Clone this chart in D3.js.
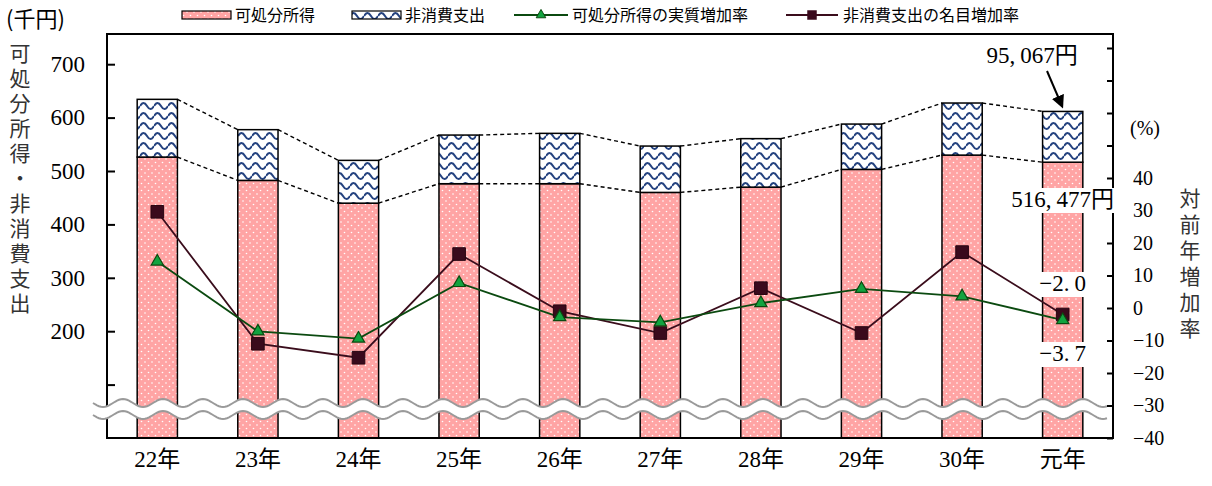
<!DOCTYPE html>
<html>
<head>
<meta charset="utf-8">
<script src="https://cdn.jsdelivr.net/npm/d3@7"></script>
<style>
body { margin: 0; background: #fff; }
svg { display: block; }
</style>
</head>
<body>
<div id="chart"></div>
<script>
// data (千円 / %)
var years = ["22年", "23年", "24年", "25年", "26年", "27年", "28年", "29年", "30年", "元年"];
var income = [526.1, 482.4, 439.8, 476.2, 476.2, 459.9, 469.8, 503.0, 529.8, 516.477];
var nonCons = [108.1, 95.0, 80.1, 91.1, 94.3, 86.8, 90.8, 84.9, 97.5, 95.067];
var realRate = [14.3, -7.2, -9.4, 7.7, -2.8, -4.4, 1.5, 5.9, 3.6, -3.7];
var nomRate = [29.6, -11.0, -15.3, 16.6, -1.0, -7.7, 6.1, -7.7, 17.2, -2.0];
var leftTicks = [100, 200, 300, 400, 500, 600, 700];
var rightTicks = [-40, -30, -20, -10, 0, 10, 20, 30, 40, 50, 60, 70, 80];

var W = 1212, H = 486;
var pLeft = 107, pRight = 1113, pTop = 34, pBottom = 438;
var serif = "Liberation Serif, Noto Sans CJK JP, serif";
var gothic = "Noto Sans CJK JP, sans-serif";

var svg = d3.select("#chart").append("svg")
  .attr("width", W).attr("height", H);

var defs = svg.append("defs");
var dots = defs.append("pattern").attr("id", "dots")
  .attr("patternUnits", "userSpaceOnUse").attr("width", 7).attr("height", 7);
dots.append("rect").attr("width", 7).attr("height", 7).attr("fill", "#ffa4a4");
dots.append("circle").attr("cx", 1.5).attr("cy", 1.5).attr("r", 0.8).attr("fill", "#fff");
dots.append("circle").attr("cx", 5).attr("cy", 5).attr("r", 0.8).attr("fill", "#fff");

var wave = defs.append("pattern").attr("id", "wave")
  .attr("patternUnits", "userSpaceOnUse").attr("width", 14).attr("height", 10);
wave.append("rect").attr("width", 14).attr("height", 10).attr("fill", "#fff");
wave.append("path").attr("d", "M0,6 Q3.5,0 7,6 T14,6")
  .attr("fill", "none").attr("stroke", "#24427f").attr("stroke-width", 2);

var x = d3.scaleBand().domain(years).range([pLeft, pRight])
  .paddingInner(0.6).paddingOuter(0.3);
var yL = d3.scaleLinear().domain([0, 800]).range([pBottom, pBottom - 800 * 0.534]);
var yR = d3.scaleLinear().domain([-40, 90]).range([pBottom, pBottom - 130 * 3.25]);

// bars
var bars = svg.append("g");
years.forEach(function(d, i) {
  bars.append("rect")
    .attr("x", x(d)).attr("width", x.bandwidth())
    .attr("y", yL(income[i])).attr("height", pBottom - yL(income[i]))
    .attr("fill", "url(#dots)").attr("stroke", "#000").attr("stroke-width", 1.5);
  bars.append("rect")
    .attr("x", x(d)).attr("width", x.bandwidth())
    .attr("y", yL(income[i] + nonCons[i])).attr("height", yL(income[i]) - yL(income[i] + nonCons[i]))
    .attr("fill", "url(#wave)").attr("stroke", "#000").attr("stroke-width", 1.5);
});

// dashed connectors
var conn = svg.append("g").attr("stroke", "#000").attr("stroke-width", 1.4)
  .attr("stroke-dasharray", "4,3");
for (var i = 0; i < years.length - 1; i++) {
  conn.append("line")
    .attr("x1", x(years[i]) + x.bandwidth()).attr("x2", x(years[i + 1]))
    .attr("y1", yL(income[i])).attr("y2", yL(income[i + 1]));
  conn.append("line")
    .attr("x1", x(years[i]) + x.bandwidth()).attr("x2", x(years[i + 1]))
    .attr("y1", yL(income[i] + nonCons[i])).attr("y2", yL(income[i + 1] + nonCons[i + 1]));
}

// frame
svg.append("rect").attr("x", pLeft).attr("y", pTop)
  .attr("width", pRight - pLeft).attr("height", pBottom - pTop)
  .attr("fill", "none").attr("stroke", "#000").attr("stroke-width", 2);

// axis break
var bw = d3.range(93, 1108, 2);
var waveY = function(v, base) { return base + 4 * Math.sin((v - 93) / 40 * 2 * Math.PI); };
var brk = svg.append("g");
brk.append("path")
  .attr("d", d3.line()(bw.map(function(v) { return [v, waveY(v, 403)]; })
    .concat(bw.slice().reverse().map(function(v) { return [v, waveY(v, 415)]; }))) + "Z")
  .attr("fill", "#fff");
[403, 415].forEach(function(b) {
  brk.append("path")
    .attr("d", d3.line()(bw.map(function(v) { return [v, waveY(v, b)]; })))
    .attr("fill", "none").attr("stroke", "#9a9a9a").attr("stroke-width", 2);
});

// axes
var axL = svg.append("g").attr("transform", "translate(" + pLeft + ",0)")
  .call(d3.axisLeft(yL).tickValues(leftTicks).tickSize(-8).tickPadding(22)
    .tickFormat(function(d) { return d >= 200 ? d : ""; }));
var axR = svg.append("g").attr("transform", "translate(" + pRight + ",0)")
  .call(d3.axisRight(yR).tickValues(rightTicks).tickSize(-6).tickPadding(20)
    .tickFormat(function(d) { return d > 40 ? "" : (d < 0 ? "\u2212" + (-d) : d); }));
var axB = svg.append("g").attr("transform", "translate(0," + pBottom + ")")
  .call(d3.axisBottom(x).tickSize(0).tickPadding(22));
[axL, axR, axB].forEach(function(a) {
  a.attr("font-family", serif);
  a.select(".domain").remove();
  a.selectAll(".tick line").attr("stroke", "#000").attr("stroke-width", 2);
  a.selectAll(".tick text").attr("fill", "#000").style("font-family", serif);
});
axL.attr("font-size", 23);
axR.attr("font-size", 20);
axB.attr("font-size", 23);
axB.selectAll(".tick text").attr("dy", "0.3em");

// value labels on 元年
var last = years.length - 1;
var cx = x(years[last]) + x.bandwidth() / 2;
function boxLabel(parts, y, gap) {
  var t = svg.append("text").attr("x", cx).attr("y", y).attr("text-anchor", "middle")
    .style("font-family", serif).style("font-size", "23px").attr("fill", "#000");
  t.append("tspan").text(parts[0]);
  t.append("tspan").attr("dx", gap).text(parts[1]);
  var b = t.node().getBBox();
  svg.insert("rect", function() { return t.node(); })
    .attr("x", b.x - 3).attr("y", b.y + 1).attr("width", b.width + 6).attr("height", b.height)
    .attr("fill", "#fff");
  return t;
}
boxLabel(["516,", "477円"], 207, 5);
boxLabel(["\u22122.", "0"], 291, 5);
boxLabel(["\u22123.", "7"], 361, 5);

var t95 = svg.append("text").attr("x", 1032).attr("y", 63).attr("text-anchor", "middle")
  .style("font-family", serif).style("font-size", "23px");
t95.append("tspan").text("95,");
t95.append("tspan").attr("dx", 5).text("067円");

defs.append("marker").attr("id", "arr").attr("viewBox", "0 0 10 10")
  .attr("refX", 8).attr("refY", 5).attr("markerWidth", 6.5).attr("markerHeight", 6.5)
  .attr("orient", "auto").attr("markerUnits", "strokeWidth")
  .append("path").attr("d", "M0,0 L10,5 L0,10 Z").attr("fill", "#000");
svg.append("line").attr("x1", 1047).attr("y1", 71).attr("x2", 1062).attr("y2", 106)
  .attr("stroke", "#000").attr("stroke-width", 2).attr("marker-end", "url(#arr)");

// rate lines
var cxs = years.map(function(d) { return x(d) + x.bandwidth() / 2; });
var lineFn = d3.line().x(function(d, i) { return cxs[i]; }).y(function(d) { return yR(d); });
svg.append("path").datum(nomRate).attr("d", lineFn)
  .attr("fill", "none").attr("stroke", "#3a0d1c").attr("stroke-width", 1.8);
svg.append("path").datum(realRate).attr("d", lineFn)
  .attr("fill", "none").attr("stroke", "#0b4a10").attr("stroke-width", 1.8);
svg.append("g").selectAll("path").data(nomRate).join("path")
  .attr("transform", function(d, i) { return "translate(" + cxs[i] + "," + yR(d) + ")"; })
  .attr("d", d3.symbol(d3.symbolSquare, 160))
  .attr("fill", "#3a0a1c").attr("stroke", "#2a0612").attr("stroke-width", 1);
svg.append("g").selectAll("path").data(realRate).join("path")
  .attr("transform", function(d, i) { return "translate(" + cxs[i] + "," + yR(d) + ")"; })
  .attr("d", d3.symbol(d3.symbolTriangle, 65))
  .attr("fill", "#12a33f").attr("stroke", "#0b4a10").attr("stroke-width", 1.2);

// titles
svg.append("text").attr("x", 6).attr("y", 27).text("(千円)")
  .style("font-family", gothic).style("font-size", "22px");
svg.append("text").attr("x", 1130).attr("y", 135).text("(%)")
  .style("font-family", serif).style("font-size", "20px");
svg.append("text").attr("x", 20).attr("y", 43)
  .style("writing-mode", "vertical-rl").style("letter-spacing", "4px")
  .style("font-family", gothic).style("font-size", "21px").attr("fill", "#333")
  .text("可処分所得・非消費支出");
svg.append("text").attr("x", 1190).attr("y", 188)
  .style("writing-mode", "vertical-rl").style("letter-spacing", "5px")
  .style("font-family", gothic).style("font-size", "21px").attr("fill", "#333")
  .text("対前年増加率");

// legend
var lg = svg.append("g").style("font-family", gothic).style("font-size", "16px");
lg.append("rect").attr("x", 182).attr("y", 11).attr("width", 49).attr("height", 8)
  .attr("fill", "url(#dots)").attr("stroke", "#000").attr("stroke-width", 1.2);
lg.append("text").attr("x", 235).attr("y", 21).text("可処分所得");
lg.append("rect").attr("x", 352).attr("y", 11).attr("width", 49).attr("height", 8)
  .attr("fill", "url(#wave)").attr("stroke", "#000").attr("stroke-width", 1.2);
lg.append("text").attr("x", 405).attr("y", 21).text("非消費支出");
lg.append("line").attr("x1", 514).attr("x2", 568).attr("y1", 15).attr("y2", 15)
  .attr("stroke", "#0b4a10").attr("stroke-width", 1.8);
lg.append("path").attr("transform", "translate(541,15)")
  .attr("d", d3.symbol(d3.symbolTriangle, 40))
  .attr("fill", "#12a33f").attr("stroke", "#0b4a10");
lg.append("text").attr("x", 572).attr("y", 21).text("可処分所得の実質増加率");
lg.append("line").attr("x1", 786).attr("x2", 838).attr("y1", 15).attr("y2", 15)
  .attr("stroke", "#3a0d1c").attr("stroke-width", 1.8);
lg.append("path").attr("transform", "translate(812,15)")
  .attr("d", d3.symbol(d3.symbolSquare, 90)).attr("fill", "#3a0a1c");
lg.append("text").attr("x", 843).attr("y", 21).text("非消費支出の名目増加率");
</script>
</body>
</html>
